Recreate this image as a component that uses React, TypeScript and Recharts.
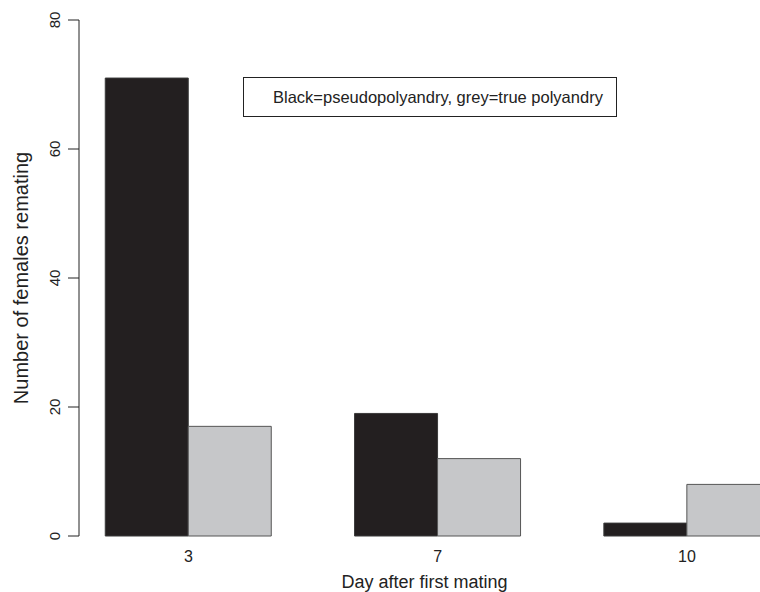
import * as React from "react";
import { BarChart, Bar, XAxis, YAxis } from "recharts";

// day after first mating
const days: string[] = ["3", "7", "10"];
// black bars
const pseudoPolyandry: number[] = [71, 19, 2];
// grey bars
const truePolyandry: number[] = [17, 12, 8];
const yTicks: number[] = [0, 20, 40, 60, 80];

const legendText = "Black=pseudopolyandry, grey=true polyandry";
const xTitle = "Day after first mating";
const yTitle = "Number of females remating";

const FONT = '"Liberation Sans", Arial, Helvetica, sans-serif';
const INK = "#222";

const chartData = days.map((d, i) => ({
  day: d,
  pseudo: pseudoPolyandry[i],
  truePoly: truePolyandry[i],
}));

const YTick = (props: any) => {
  const { x, y, payload } = props;
  return (
    <text
      transform={`translate(${x - 8.5},${y}) rotate(-90)`}
      textAnchor="middle"
      fontSize={15}
      fontFamily={FONT}
      fill={INK}
    >
      {payload.value}
    </text>
  );
};

const XTick = (props: any) => {
  const { x, y, payload } = props;
  return (
    <text x={x} y={y + 26} textAnchor="middle" fontSize={16} fontFamily={FONT} fill={INK}>
      {payload.value}
    </text>
  );
};

const YTitle = (props: any) => {
  const vb = props.viewBox || { x: 0, y: 20, width: 79, height: 516 };
  const cy = vb.y + vb.height / 2;
  return (
    <text
      transform={`translate(${vb.x + 27.5},${cy}) rotate(-90)`}
      textAnchor="middle"
      fontSize={20}
      fontFamily={FONT}
      fill={INK}
    >
      {yTitle}
    </text>
  );
};

const XTitle = (props: any) => {
  const vb = props.viewBox || { x: 79, y: 536, width: 691, height: 56 };
  return (
    <text
      x={vb.x + vb.width / 2}
      y={vb.y + 52}
      textAnchor="middle"
      fontSize={18}
      fontFamily={FONT}
      fill={INK}
    >
      {xTitle}
    </text>
  );
};

export default function App() {
  return (
    <div
      style={{
        position: "absolute",
        left: 0,
        top: 0,
        width: 760,
        height: 592,
        overflow: "hidden",
        background: "#fff",
      }}
    >
      <BarChart
        width={800}
        height={592}
        data={chartData}
        margin={{ top: 20, right: 30, bottom: 0, left: 0 }}
        barCategoryGap="16.67%"
        barGap={0}
      >
        <XAxis
          dataKey="day"
          height={56}
          axisLine={false}
          tickLine={false}
          tickSize={0}
          tickMargin={0}
          padding={{ left: -15.3, right: -41.6 }}
          tick={<XTick />}
          interval={0}
          label={<XTitle />}
        />
        <YAxis
          width={79}
          domain={[0, 80]}
          ticks={yTicks}
          tickSize={11}
          tickMargin={0}
          axisLine={{ stroke: INK, strokeWidth: 1 }}
          tickLine={{ stroke: INK, strokeWidth: 1 }}
          tick={<YTick />}
          interval={0}
          label={<YTitle />}
        />
        <Bar dataKey="pseudo" fill="#231f20" stroke="#3a3a3a" strokeWidth={1} isAnimationActive={false} />
        <Bar dataKey="truePoly" fill="#c6c7c9" stroke="#555" strokeWidth={1} isAnimationActive={false} />
      </BarChart>
      <div
        style={{
          position: "absolute",
          left: 243,
          top: 77,
          width: 374,
          height: 40,
          boxSizing: "border-box",
          border: `1px solid ${INK}`,
          paddingLeft: 29,
          display: "flex",
          alignItems: "center",
          fontFamily: FONT,
          fontSize: 16.5,
          color: INK,
          background: "#fff",
          whiteSpace: "nowrap",
        }}
      >
        {legendText}
      </div>
    </div>
  );
}
